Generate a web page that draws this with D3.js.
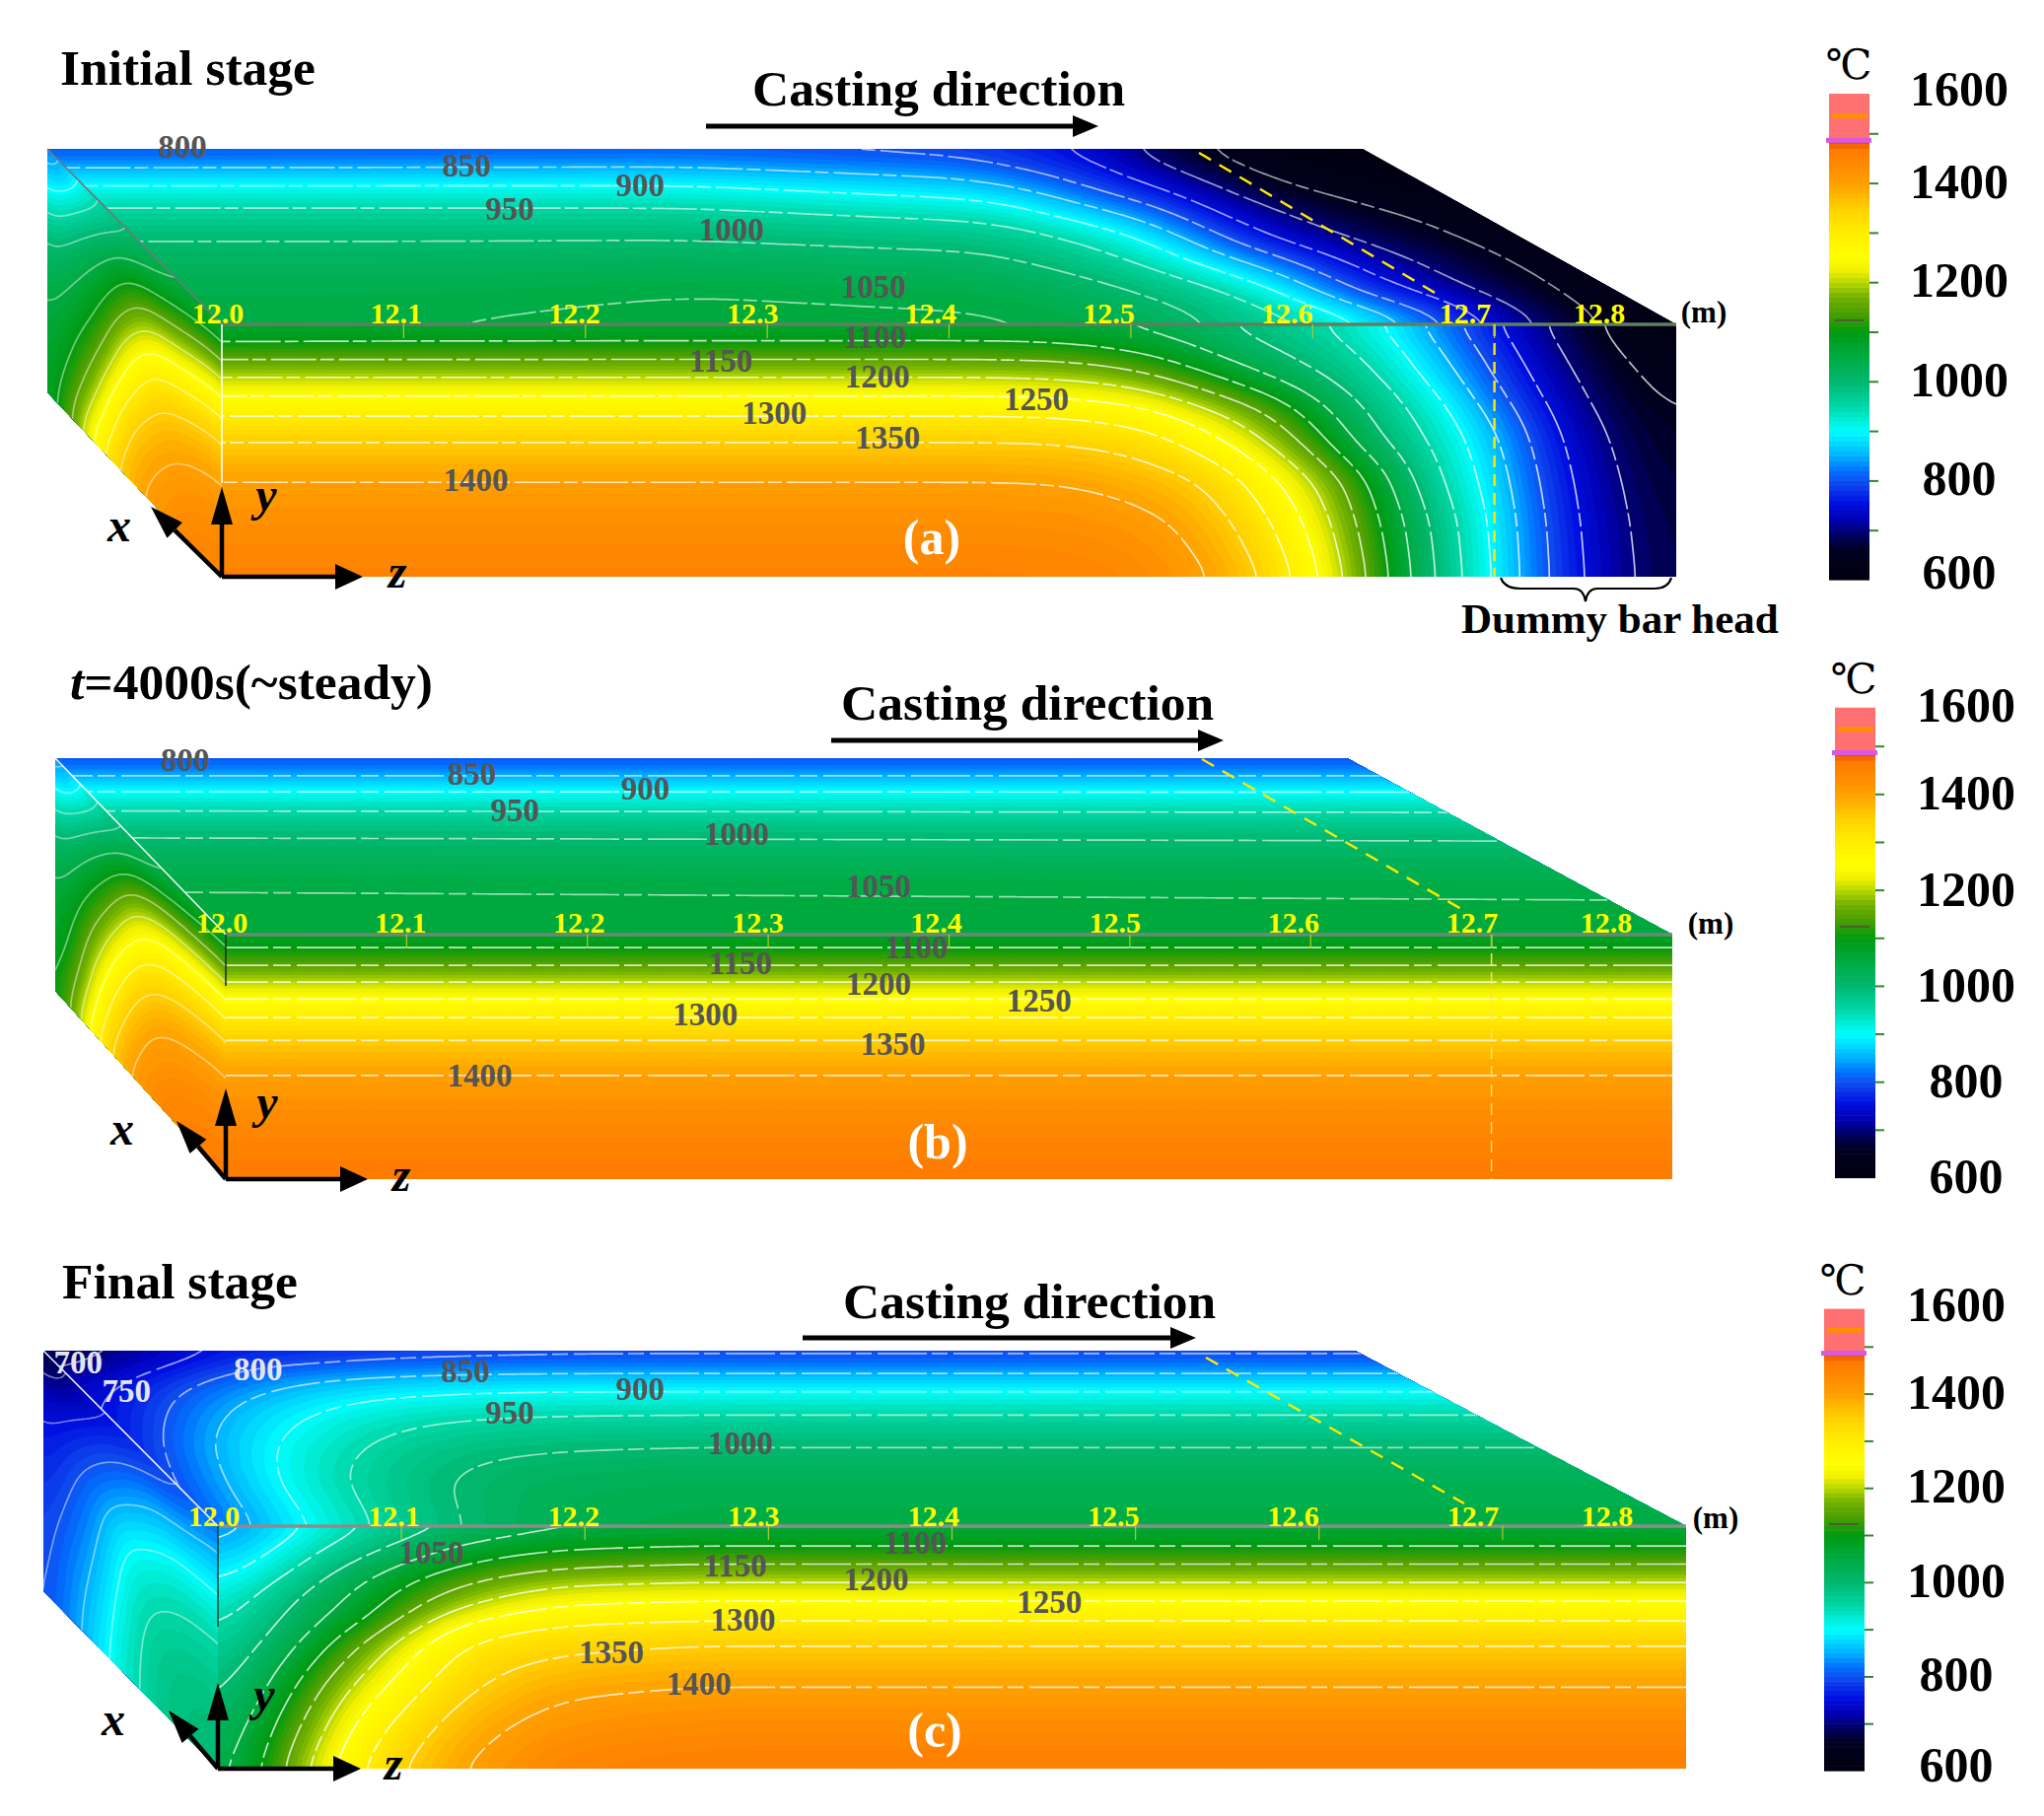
<!DOCTYPE html>
<html>
<head>
<meta charset="utf-8">
<script src="https://cdn.jsdelivr.net/npm/d3@7"></script>
<style>
  html, body { margin: 0; padding: 0; background: #fff; }
  text { font-family: "Liberation Serif", "Noto Sans CJK SC", serif; }
</style>
</head>
<body>
<div id="chart"></div>
<script>
// temperature tables, T[column][row] in deg C
const sCols = [0, 0.15, 0.3, 0.45, 0.6, 0.75, 0.9, 1];

// (a) initial stage
const aFrontX = [225, 430, 1000, 1083, 1163, 1230, 1290, 1340, 1390, 1430, 1480, 1520, 1565, 1600, 1650, 1700];
const aFrontY = [329, 346, 365, 382, 402, 420, 447, 486, 530, 585];
const aFrontT = [
  [1045, 1100, 1150, 1200, 1250, 1300, 1350, 1400, 1430, 1455],
  [1051, 1100, 1150, 1200, 1250, 1300, 1350, 1400, 1430, 1455],
  [1055, 1100, 1150, 1200, 1250, 1300, 1350, 1400, 1430, 1455],
  [1050, 1095, 1145, 1195, 1245, 1295, 1347, 1398, 1428, 1452],
  [1035, 1070, 1118, 1165, 1225, 1272, 1327, 1378, 1415, 1440],
  [1005, 1028, 1058, 1104, 1160, 1212, 1265, 1345, 1378, 1402],
  [975, 990, 1012, 1045, 1108, 1152, 1192, 1258, 1305, 1347],
  [955, 967, 985, 997, 1035, 1070, 1120, 1190, 1222, 1248],
  [915, 930, 950, 962, 975, 985, 1000, 1102, 1125, 1147],
  [865, 885, 900, 918, 943, 960, 975, 992, 1035, 1048],
  [795, 820, 835, 852, 875, 890, 910, 925, 938, 947],
  [745, 762, 775, 790, 805, 835, 860, 878, 893, 897],
  [698, 712, 722, 733, 745, 755, 770, 785, 795, 800],
  [668, 677, 685, 695, 705, 715, 727, 738, 748, 755],
  [625, 635, 647, 655, 662, 672, 682, 690, 695, 698],
  [600, 610, 620, 630, 637, 645, 650, 660, 668, 672]
];
const aTopX = [48, 430, 700, 1000, 1030, 1096, 1163, 1230, 1296, 1360, 1402, 1442, 1476, 1515, 1562, 1625, 1700];
const aTopY = [151, 168, 188, 209, 241, 294, 329];
const aTopT = [
  [780, 850, 900, 950, 1000, 1040, 1045],
  [785, 850, 900, 950, 1000, 1040, 1051],
  [790, 850, 900, 950, 1000, 1050, 1058],
  [772, 815, 865, 918, 985, 1042, 1055],
  [760, 785, 847, 908, 978, 1037, 1054],
  [745, 768, 797, 855, 945, 1023, 1048],
  [680, 715, 748, 812, 902, 998, 1034],
  [640, 665, 702, 733, 810, 965, 1002],
  [610, 625, 650, 690, 735, 910, 975],
  [600, 612, 630, 660, 700, 805, 945],
  [600, 605, 618, 645, 680, 760, 895],
  [600, 600, 610, 635, 665, 735, 845],
  [600, 600, 605, 625, 650, 705, 795],
  [600, 600, 600, 610, 635, 680, 745],
  [600, 600, 600, 600, 620, 660, 698],
  [600, 600, 600, 600, 605, 620, 648],
  [600, 600, 600, 600, 600, 600, 600]
];
const aLeftD = [0, 17, 36, 53, 73, 91, 118, 157, 201, 256];
const aLeftT = [
  [790, 830, 870, 905, 945, 980, 1010, 1040, 1055, 1060],
  [870, 910, 945, 980, 1010, 1030, 1055, 1080, 1105, 1150],
  [940, 975, 1005, 1030, 1060, 1078, 1098, 1142, 1205, 1300],
  [985, 1020, 1068, 1102, 1130, 1155, 1210, 1275, 1350, 1378],
  [1015, 1048, 1095, 1133, 1195, 1237, 1300, 1352, 1385, 1415],
  [1030, 1075, 1118, 1155, 1212, 1257, 1322, 1378, 1416, 1442],
  [1040, 1090, 1140, 1190, 1240, 1290, 1345, 1393, 1427, 1452],
  [1045, 1100, 1150, 1200, 1250, 1300, 1350, 1400, 1430, 1455]
];

// (b) t=4000s
const bFrontX = [229, 1696];
const bFrontY = [948, 963, 979, 996, 1013, 1031, 1053, 1088, 1138, 1196];
const bFrontT = [
  [1062, 1100, 1150, 1200, 1250, 1300, 1350, 1400, 1440, 1470],
  [1062, 1100, 1150, 1200, 1250, 1300, 1350, 1400, 1440, 1470]
];
const bTopX = [56, 1696];
const bTopY = [769, 785, 802, 821, 846, 897, 948];
const bTopT = [
  [775, 850, 900, 950, 1000, 1050, 1062],
  [775, 850, 900, 945, 995, 1045, 1062]
];
const bLeftD = [0, 15, 31, 48, 65, 83, 105, 140, 190, 248];
const bLeftT = [
  [790, 835, 875, 915, 955, 985, 1015, 1045, 1065, 1075],
  [880, 920, 960, 995, 1025, 1050, 1075, 1105, 1135, 1200],
  [960, 995, 1020, 1055, 1085, 1110, 1145, 1200, 1285, 1352],
  [995, 1035, 1088, 1130, 1172, 1215, 1250, 1318, 1375, 1410],
  [1025, 1060, 1120, 1170, 1218, 1262, 1310, 1368, 1418, 1445],
  [1045, 1082, 1130, 1185, 1235, 1280, 1330, 1385, 1430, 1458],
  [1055, 1095, 1145, 1195, 1245, 1295, 1345, 1395, 1437, 1466],
  [1062, 1100, 1150, 1200, 1250, 1300, 1350, 1400, 1440, 1470]
];

// (c) final stage
const cFrontX = [221, 262, 312, 371, 464, 560, 700, 1710];
const cFrontY = [1548, 1569, 1586, 1605, 1624, 1643, 1667, 1710, 1750, 1794];
const cFrontT = [
  [820, 845, 870, 885, 910, 930, 955, 975, 990, 1000],
  [850, 880, 895, 940, 960, 975, 990, 1025, 1065, 1100],
  [900, 935, 958, 985, 1015, 1032, 1060, 1125, 1165, 1200],
  [950, 982, 1015, 1060, 1075, 1092, 1160, 1228, 1280, 1317],
  [1000, 1058, 1095, 1148, 1180, 1245, 1305, 1340, 1375, 1400],
  [1030, 1097, 1130, 1195, 1235, 1290, 1335, 1388, 1420, 1450],
  [1047, 1100, 1150, 1200, 1250, 1300, 1350, 1400, 1435, 1462],
  [1047, 1100, 1150, 1200, 1250, 1300, 1350, 1400, 1435, 1462]
];
const cTopX = [44, 120, 165, 225, 298, 371, 464, 560, 700, 1710];
const cTopY = [1370, 1380, 1392, 1410, 1434, 1465, 1500, 1548];
const cTopT = [
  [650, 680, 700, 720, 730, 730, 720, 700],
  [700, 715, 735, 750, 750, 740, 735, 730],
  [705, 735, 760, 790, 800, 808, 790, 760],
  [750, 785, 795, 830, 852, 862, 848, 820],
  [740, 795, 825, 865, 895, 915, 920, 885],
  [760, 800, 840, 885, 925, 953, 965, 950],
  [765, 805, 848, 895, 942, 985, 1008, 1000],
  [770, 808, 850, 900, 948, 995, 1025, 1035],
  [770, 810, 850, 900, 950, 1000, 1030, 1047],
  [770, 810, 850, 900, 950, 1000, 1030, 1047]
];
const cLeftD = [0, 21, 38, 57, 76, 95, 119, 162, 202, 246];
const cLeftT = [
  [660, 690, 710, 730, 745, 755, 765, 780, 785, 790],
  [690, 720, 745, 765, 780, 790, 800, 815, 825, 830],
  [735, 760, 780, 795, 810, 825, 835, 850, 865, 875],
  [750, 785, 805, 825, 852, 880, 900, 912, 920, 925],
  [770, 805, 835, 860, 880, 900, 925, 955, 965, 965],
  [785, 815, 845, 875, 900, 925, 945, 970, 985, 985],
  [805, 835, 860, 880, 905, 925, 950, 975, 995, 998],
  [820, 845, 870, 885, 910, 930, 955, 975, 990, 1000]
];

// labels
const zTicks = [12.0, 12.1, 12.2, 12.3, 12.4, 12.5, 12.6, 12.7, 12.8];
const aIsoLabels = [800, 850, 900, 950, 1000, 1050, 1100, 1150, 1200, 1250, 1300, 1350, 1400];
const bIsoLabels = [800, 850, 900, 950, 1000, 1050, 1100, 1150, 1200, 1250, 1300, 1350, 1400];
const cIsoLabels = [700, 750, 800, 850, 900, 950, 1000, 1050, 1100, 1150, 1200, 1250, 1300, 1350, 1400];
const isoLevels = [650, 700, 750, 800, 850, 900, 950, 1000, 1050, 1100, 1150, 1200, 1250, 1300, 1350, 1400];
const barTicks = [700, 800, 900, 1000, 1100, 1200, 1300, 1400, 1500];
const barLabels = [600, 800, 1000, 1200, 1400, 1600];

// colour bar stops
const colorTemps = [600, 660, 690, 720, 755, 800, 820, 850, 900, 950, 1000, 1060, 1100, 1140, 1170, 1200, 1225, 1250, 1300, 1350, 1400, 1440, 1465, 1485, 1491, 1600];
const colorStops = ["#000010", "#000020", "#000060", "#0000b0", "#0010e0", "#1050f0", "#0070ff", "#00b0ff", "#00ffff", "#00d8a8", "#00b870", "#00a838", "#009a10", "#50a000", "#70b000", "#b8d800", "#f0f000", "#ffff00", "#ffee00", "#ffd000", "#ffa000", "#ff8800", "#ff7c00", "#e85000", "#ff7070", "#ff7070"];
const color = d3.scaleLinear().domain(colorTemps).range(colorStops).clamp(true);

const W = 2073, H = 1842;
const svg = d3.select("#chart").append("svg").attr("width", W).attr("height", H).style("display", "block");

const bandT = d3.range(590, 1480, 10);

// smooth the coarse table on a finer grid so that d3.contours gives round corners
function fineGrid(xs, ys, cols, nx, ny, rx, ry) {
  const values = new Float64Array(nx * ny);
  const xp = d3.scaleLinear().domain([0, nx - 1]).range(d3.extent(xs));
  const yp = d3.scaleLinear().domain([0, ny - 1]).range(d3.extent(ys));
  for (let j = 0; j < ny; j++) {
    const Y = yp(j);
    const r = Math.min(ys.length - 2, Math.max(0, d3.bisectRight(ys, Y) - 1));
    const fy = (Y - ys[r]) / (ys[r + 1] - ys[r]);
    for (let i = 0; i < nx; i++) {
      const X = xp(i);
      const c = Math.min(xs.length - 2, Math.max(0, d3.bisectRight(xs, X) - 1));
      const fx = (X - xs[c]) / (xs[c + 1] - xs[c]);
      const a = cols[c][r] * (1 - fy) + cols[c][r + 1] * fy;
      const b = cols[c + 1][r] * (1 - fy) + cols[c + 1][r + 1] * fy;
      values[j * nx + i] = a * (1 - fx) + b * fx;
    }
  }
  d3.blur2({ data: values, width: nx, height: ny }, rx, ry);
  return values;
}

function drawField(g, xs, ys, cols, nx, ny, blur, project, clipId, lineStyle) {
  const values = fineGrid(xs, ys, cols, nx, ny, blur[0], blur[1]);
  const gx = d3.scaleLinear().domain([0.5, nx - 0.5]).range(d3.extent(xs)).clamp(true);
  const gy = d3.scaleLinear().domain([0.5, ny - 0.5]).range(d3.extent(ys)).clamp(true);
  const toScreen = (x, y) => project(gx(x), gy(y));
  const path = d3.geoPath(d3.geoTransform({
    point(x, y) {
      const p = toScreen(x, y);
      this.stream.point(Math.round(p[0] * 10) / 10, Math.round(p[1] * 10) / 10);
    }
  }));

  const face = g.append("g").attr("clip-path", `url(#${clipId})`);
  const contours = d3.contours().size([nx, ny]);

  face.selectAll("path.band")
    .data(contours.thresholds(bandT)(values))
    .join("path")
    .attr("class", "band")
    .attr("d", path)
    .attr("fill", d => color(d.value + 5))
    .attr("stroke", d => color(d.value + 5))
    .attr("stroke-width", 0.6);

  // isotherms, without the pieces that run along the edge of the grid
  const lineGen = d3.line();
  const isoD = contours.thresholds(isoLevels)(values).map(c => {
    const parts = [];
    c.coordinates.forEach(poly => poly.forEach(ring => {
      let cur = [];
      ring.forEach(pt => {
        const edge = pt[0] <= 0 || pt[0] >= nx || pt[1] <= 0 || pt[1] >= ny;
        if (edge) {
          if (cur.length > 1) parts.push(cur);
          cur = [];
        } else {
          cur.push(toScreen(pt[0], pt[1]));
        }
      });
      if (cur.length > 1) parts.push(cur);
    }));
    return parts.map(p => lineGen(p)).join("");
  });
  face.selectAll("path.iso")
    .data(isoD)
    .join("path")
    .attr("class", "iso")
    .attr("d", d => d)
    .attr("fill", "none")
    .attr("stroke", "#fff")
    .attr("stroke-opacity", lineStyle.opacity)
    .attr("stroke-width", 1.7)
    .attr("stroke-dasharray", lineStyle.dash);
}

function arrow(g, x1, y1, x2, y2, len, wid, sw) {
  const a = Math.atan2(y2 - y1, x2 - x1);
  const bx = x2 - len * Math.cos(a), by = y2 - len * Math.sin(a);
  g.append("line").attr("x1", x1).attr("y1", y1).attr("x2", bx).attr("y2", by)
    .attr("stroke", "#000").attr("stroke-width", sw);
  g.append("polygon")
    .attr("points", [[x2, y2], [bx - wid * Math.sin(a), by + wid * Math.cos(a)], [bx + wid * Math.sin(a), by - wid * Math.cos(a)]].join(" "))
    .attr("fill", "#000");
}

function drawPanel(p, i) {
  const g = svg.append("g");
  const b = p.box;
  const polys = {
    top: [[b.xl, b.yb], [b.xbr, b.yb], [b.xr, b.yf], [b.xf, b.yf]],
    left: [[b.xl, b.yb], [b.xf, b.yf], [b.xf, b.yo], [b.xl, b.yl]]
  };
  const defs = g.append("defs");
  Object.keys(polys).forEach(k => {
    defs.append("clipPath").attr("id", `${k}${i}`).append("polygon").attr("points", polys[k].join(" "));
  });
  defs.append("clipPath").attr("id", `front${i}`).append("rect")
    .attr("x", b.xf).attr("y", b.yf).attr("width", b.xr - b.xf).attr("height", b.yo - b.yf);

  // left face is tabulated along the width (s) and down the depth (d)
  const dMax = d3.max(p.leftD);
  const sx = d3.scaleLinear().domain([0, 1]).range([b.xl, b.xf]);
  const sTop = d3.scaleLinear().domain([0, 1]).range([b.yb, b.yf]);
  const sH = d3.scaleLinear().domain([0, 1]).range([b.yl - b.yb, b.yo - b.yf]);
  drawField(g, sCols, p.leftD, p.leftT, 60, 70, [4, 4],
    (s, d) => [sx(s), sTop(s) + d / dMax * sH(s)], `left${i}`, { opacity: 0.45, dash: null });
  drawField(g, p.topX, p.topY, p.topT, Math.round((p.topX[p.topX.length - 1] - p.topX[0]) / 5), 44, [7, 2.5],
    (x, y) => [x, y], `top${i}`, { opacity: 0.6, dash: p.dash });
  drawField(g, p.frontX, p.frontY, p.frontT, Math.round((p.frontX[p.frontX.length - 1] - p.frontX[0]) / 5), 64, [6, 2.5],
    (x, y) => [x, y], `front${i}`, { opacity: 0.75, dash: p.dash });

  // box edges
  g.append("line").attr("x1", b.xl).attr("y1", b.yb).attr("x2", b.xf).attr("y2", b.yf)
    .attr("stroke", p.diag).attr("stroke-width", 1.6);
  g.append("line").attr("x1", b.xf).attr("y1", b.yf).attr("x2", b.xr).attr("y2", b.yf)
    .attr("stroke", p.edge).attr("stroke-width", 3.5);
  g.append("line").attr("x1", b.xf).attr("y1", b.yf).attr("x2", b.xf).attr("y2", p.vEnd)
    .attr("stroke", p.vColor).attr("stroke-width", 1.6);

  // dummy bar head boundary
  const zx = d3.scaleLinear().domain([12.0, 12.8]).range([b.xf, b.xr]);
  g.append("line").attr("x1", p.dashTop[0]).attr("y1", p.dashTop[1]).attr("x2", p.dashTop[2]).attr("y2", p.dashTop[3])
    .attr("stroke", "#ffe800").attr("stroke-width", 2.4).attr("stroke-dasharray", "14 10");
  g.append("line").attr("x1", zx(12.7)).attr("y1", b.yf).attr("x2", zx(12.7)).attr("y2", b.yo)
    .attr("stroke", p.dashColor).attr("stroke-width", p.dashW).attr("stroke-dasharray", "12 7");

  // z ticks and labels
  g.selectAll("line.ztick").data(zTicks.slice(1, 8)).join("line")
    .attr("class", "ztick")
    .attr("x1", d => zx(d)).attr("x2", d => zx(d))
    .attr("y1", b.yf).attr("y2", b.yf + 14)
    .attr("stroke", "#b8c830").attr("stroke-width", 1.2);
  const labelX = d3.scaleLinear().domain([12.0, 12.7, 12.8]).range(p.zLabelX);
  g.selectAll("text.zlab").data(zTicks).join("text")
    .attr("class", "zlab")
    .attr("x", d => labelX(d)).attr("y", p.zLabelY)
    .attr("text-anchor", "middle")
    .attr("font-size", 30).attr("font-weight", "bold").attr("fill", "#ffff00")
    .text(d => d.toFixed(1));
  g.append("text").attr("x", p.m[0]).attr("y", p.m[1]).attr("text-anchor", "middle")
    .attr("font-size", 31).attr("font-weight", "bold").text("(m)");

  // isotherm labels
  g.selectAll("text.iso").data(p.isoLabels).join("text")
    .attr("class", "iso")
    .attr("x", (d, k) => p.isoPos[k][0] * scale).attr("y", (d, k) => p.isoPos[k][1] * scale + 11)
    .attr("text-anchor", "middle")
    .attr("font-size", 33).attr("font-weight", "bold")
    .attr("fill", d => (p.lightLabels && d <= 800) ? "#e4e4ee" : "#555")
    .text(d => d);

  // titles
  const title = g.append("text").attr("x", p.title[0]).attr("y", p.title[1])
    .attr("font-size", 51.5).attr("font-weight", "bold");
  p.titleParts.forEach(t => title.append("tspan").attr("font-style", t[1] ? "italic" : "normal").text(t[0]));
  g.append("text").attr("x", p.cast[0]).attr("y", p.cast[1]).attr("font-size", 51.5).attr("font-weight", "bold").text("Casting direction");
  arrow(g, p.castArrow[0], p.castArrow[2], p.castArrow[1], p.castArrow[2], 26, 11, 5);
  g.append("text").attr("x", p.tag[0]).attr("y", p.tag[1]).attr("text-anchor", "middle")
    .attr("font-size", 50).attr("font-weight", "bold").attr("fill", "#fff").text(p.tagText);

  // coordinate triad
  arrow(g, b.xf, b.yo, b.xf, p.yTip, 38, 11, 4.5);
  arrow(g, b.xf, b.yo, p.zTip, b.yo, 28, 13, 4.5);
  arrow(g, b.xf, b.yo, p.xTip[0], p.xTip[1], 34, 11, 4.5);
  [["x", p.xLab], ["y", p.yLab], ["z", p.zLab]].forEach(t => {
    g.append("text").attr("x", t[1][0]).attr("y", t[1][1]).attr("text-anchor", "middle")
      .attr("font-size", 48).attr("font-style", "italic").attr("font-weight", "bold").text(t[0]);
  });

  // colour bar
  const barY = d3.scaleLinear().domain([600, 1600]).range(p.bar.y);
  const barG = g.append("g");
  const steps = d3.range(600, 1580, 10);
  barG.selectAll("rect").data(steps).join("rect")
    .attr("x", p.bar.x).attr("width", 41)
    .attr("y", d => barY(d + 10)).attr("height", d => barY(d) - barY(d + 10) + 0.6)
    .attr("fill", d => color(d + 5));
  barG.append("rect").attr("x", p.bar.x + 3).attr("width", 36).attr("y", barY(1540)).attr("height", 5).attr("fill", "#ff9000");
  barG.append("rect").attr("x", p.bar.x - 3).attr("width", 46).attr("y", barY(1491)).attr("height", 5).attr("fill", "#d858e0");
  barG.append("rect").attr("x", p.bar.x + 5).attr("width", 30).attr("y", barY(1125)).attr("height", 2).attr("fill", "#505a30");

  const axis = d3.axisRight(barY).tickValues(barTicks).tickSize(9).tickFormat("");
  const axG = g.append("g").attr("transform", `translate(${p.bar.x + 41},0)`).call(axis);
  axG.select(".domain").remove();
  axG.selectAll("line").attr("stroke", "#2c8a2c").attr("stroke-width", 2);

  g.selectAll("text.bar").data(barLabels).join("text")
    .attr("class", "bar")
    .attr("x", p.bar.lx).attr("y", d => barY(d) + p.bar.dy(d))
    .attr("text-anchor", "middle").attr("font-size", 50).attr("font-weight", "bold")
    .text(d => d);
  g.append("text").attr("x", p.bar.cx).attr("y", p.bar.cy).attr("text-anchor", "middle")
    .attr("font-size", 42).style("font-family", "'DejaVu Serif', 'Noto Sans CJK SC'").text("℃");
}

const scale = 2073 / 1568;

const panels = [
  {
    box: { xl: 48, xbr: 1382, xf: 225, xr: 1700, yb: 151, yf: 329, yo: 585, yl: 398 },
    frontX: aFrontX, frontY: aFrontY, frontT: aFrontT,
    topX: aTopX, topY: aTopY, topT: aTopT,
    leftD: aLeftD, leftT: aLeftT,
    dash: "46 5 14 4",
    diag: "#777", edge: "#5f8060", vEnd: 490, vColor: "#fff",
    dashTop: [1216, 155, 1462, 301], dashColor: "#ffe800", dashW: 2.4,
    zLabelX: [221, 1486, 1622], zLabelY: 328, m: [1728, 327],
    isoLabels: aIsoLabels,
    isoPos: [[140, 113], [358, 127], [491, 142], [391, 160], [561, 176], [670, 220], [671, 259], [553, 277], [673, 289], [795, 306], [594, 317], [681, 336], [365, 368]],
    title: [61, 86], titleParts: [["Initial stage", false]],
    cast: [763, 107], castArrow: [716, 1114, 128],
    tag: [945, 562], tagText: "(a)",
    yTip: 494, zTip: 368, xTip: [153, 514],
    xLab: [121, 549], yLab: [270, 518], zLab: [403, 596],
    bar: { x: 1855, y: [588, 85], lx: 1987, cx: 1875, cy: 80, dy: d => d === 1600 ? 22 : d === 600 ? 9 : 15 }
  },
  {
    box: { xl: 56, xbr: 1366, xf: 229, xr: 1696, yb: 769, yf: 948, yo: 1196, yl: 1005 },
    frontX: bFrontX, frontY: bFrontY, frontT: bFrontT,
    topX: bTopX, topY: bTopY, topT: bTopT,
    leftD: bLeftD, leftT: bLeftT,
    dash: "60 6 18 5",
    diag: "#f2f6f4", edge: "#6a8a78", vEnd: 1000, vColor: "#1a3a1a",
    dashTop: [1219, 770, 1482, 922], dashColor: "#ffe060", dashW: 1.5,
    zLabelX: [225, 1493, 1629], zLabelY: 946, m: [1735, 947],
    isoLabels: bIsoLabels,
    isoPos: [[142, 583], [362, 594], [495, 605], [395, 622], [565, 640], [674, 680], [703, 727], [568, 739], [674, 755], [797, 768], [541, 778], [685, 801], [368, 825]],
    title: [71, 709], titleParts: [["t", true], ["=4000s(~steady)", false]],
    cast: [853, 730], castArrow: [843, 1241, 751],
    tag: [951, 1175], tagText: "(b)",
    yTip: 1104, zTip: 373, xTip: [179, 1137],
    xLab: [124, 1161], yLab: [271, 1134], zLab: [407, 1208],
    bar: { x: 1861, y: [1194.5, 708], lx: 1994, cx: 1880, cy: 703, dy: d => d === 1600 ? 24 : d === 600 ? 15 : 16 }
  },
  {
    box: { xl: 44, xbr: 1374, xf: 221, xr: 1710, yb: 1370, yf: 1548, yo: 1794, yl: 1614 },
    frontX: cFrontX, frontY: cFrontY, frontT: cFrontT,
    topX: cTopX, topY: cTopY, topT: cTopT,
    leftD: cLeftD, leftT: cLeftT,
    dash: "50 6 16 5",
    diag: "#eef4ff", edge: "#8a8f8a", vEnd: 1650, vColor: "#0a4a30",
    dashTop: [1223, 1377, 1485, 1525], dashColor: "#ffe060", dashW: 0,
    zLabelX: [217, 1494, 1630], zLabelY: 1548, m: [1740, 1550],
    isoLabels: cIsoLabels, lightLabels: true,
    isoPos: [[60, 1045], [97, 1067], [198, 1051], [357, 1052], [491, 1066], [391, 1084], [568, 1107], [331, 1191], [702, 1184], [564, 1201], [672, 1212], [805, 1229], [570, 1243], [469, 1268], [536, 1292]],
    title: [63, 1317], titleParts: [["Final stage", false]],
    cast: [855, 1337], castArrow: [814, 1213, 1357],
    tag: [948, 1772], tagText: "(c)",
    yTip: 1707, zTip: 366, xTip: [171, 1735],
    xLab: [115, 1760], yLab: [268, 1735], zLab: [399, 1805],
    bar: { x: 1850, y: [1796, 1318], lx: 1984, cx: 1869, cy: 1313, dy: d => d === 1600 ? 22 : d === 600 ? 11 : 15 }
  }
];

panels.forEach(drawPanel);

// brace under the dummy bar head in (a)
const brace = d3.path();
brace.moveTo(1522, 586);
brace.quadraticCurveTo(1526, 597, 1542, 597);
brace.lineTo(1596, 597);
brace.quadraticCurveTo(1606, 597, 1608, 610);
brace.quadraticCurveTo(1610, 597, 1620, 597);
brace.lineTo(1678, 597);
brace.quadraticCurveTo(1692, 597, 1695, 586);
svg.append("path").attr("d", brace.toString()).attr("fill", "none").attr("stroke", "#000").attr("stroke-width", 2.2);
svg.append("text").attr("x", 1482).attr("y", 642).attr("font-size", 43).attr("font-weight", "bold").text("Dummy bar head");
</script>
</body>
</html>
